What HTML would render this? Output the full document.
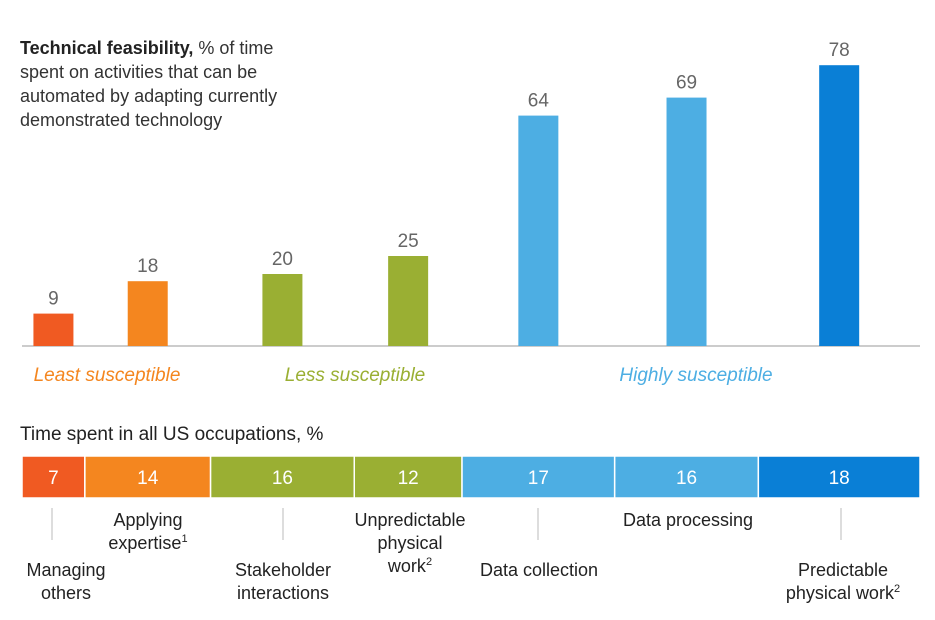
<!DOCTYPE html>
<html><head><meta charset="utf-8"><style>
body{margin:0;background:#fff;font-family:"Liberation Sans",sans-serif;}
svg text{font-family:"Liberation Sans",sans-serif;}
</style></head><body>
<svg id="chart" width="935" height="615" viewBox="0 0 935 615" xmlns="http://www.w3.org/2000/svg">
<g font-size="18" fill="#333">
<text x="20" y="54"><tspan font-weight="bold" fill="#222">Technical feasibility,</tspan> % of time</text>
<text x="20" y="78">spent on activities that can be</text>
<text x="20" y="102">automated by adapting currently</text>
<text x="20" y="126">demonstrated technology</text>
</g>
<line x1="22" x2="920" y1="346" y2="346" stroke="#bbb" stroke-width="1.5"/>
<g id="bars"></g>
<g font-size="19" font-style="italic" text-anchor="middle">
<text x="107" y="381" fill="#f4861f">Least susceptible</text>
<text x="355" y="381" fill="#9aaf33">Less susceptible</text>
<text x="696" y="381" fill="#4daee3">Highly susceptible</text>
</g>
<text x="20" y="440" font-size="19" fill="#222">Time spent in all US occupations, %</text>
<g id="stack"></g>
<g font-size="18" fill="#222" text-anchor="middle">
<text x="148" y="526">Applying</text><text x="148" y="549">expertise<tspan font-size="11" dy="-7">1</tspan></text>
<text x="66" y="576">Managing</text><text x="66" y="599">others</text>
<text x="283" y="576">Stakeholder</text><text x="283" y="599">interactions</text>
<text x="410" y="526">Unpredictable</text><text x="410" y="549">physical</text><text x="410" y="572">work<tspan font-size="11" dy="-7">2</tspan></text>
<text x="539" y="576">Data collection</text>
<text x="688" y="526">Data processing</text>
<text x="843" y="576">Predictable</text><text x="843" y="599">physical work<tspan font-size="11" dy="-7">2</tspan></text>
</g>
<g stroke="#bbb" stroke-width="1">
<line x1="52" x2="52" y1="508" y2="540"/>
<line x1="283" x2="283" y1="508" y2="540"/>
<line x1="538" x2="538" y1="508" y2="540"/>
<line x1="841" x2="841" y1="508" y2="540"/>
</g>
</svg>
<script>
const categories=["Managing others","Applying expertise","Stakeholder interactions","Unpredictable physical work","Data collection","Data processing","Predictable physical work"];
const feasibility=[9,18,20,25,64,69,78];
const timeShare=[7,14,16,12,17,16,18];
const colors=["#f05a22","#f4861f","#9aaf33","#9aaf33","#4daee3","#4daee3","#0a7fd6"];
const NS="http://www.w3.org/2000/svg";
const X0=22,X1=920,BASE=346,PX=3.6;
const total=timeShare.reduce((a,b)=>a+b,0);
function xs(v){return X0+v/total*(X1-X0);}
function ys(v){return BASE-v*PX;}
const bars=document.getElementById('bars'),stack=document.getElementById('stack');
let cum=0;
categories.forEach((c,i)=>{
 const a=xs(cum),b=xs(cum+timeShare[i]);cum+=timeShare[i];
 const cx=(a+b)/2;
 const r=document.createElementNS(NS,'rect');
 
 
 r.setAttribute('x',cx-20);r.setAttribute('width',40);
 r.setAttribute('y',ys(feasibility[i]));r.setAttribute('height',BASE-ys(feasibility[i]));
 r.setAttribute('fill',colors[i]);bars.appendChild(r);
 const t=document.createElementNS(NS,'text');
 
 
 t.setAttribute('x',cx);t.setAttribute('y',ys(feasibility[i])-9);
 t.setAttribute('text-anchor','middle');t.setAttribute('font-size','19');t.setAttribute('fill','#666');
 t.textContent=feasibility[i];bars.appendChild(t);
 const s=document.createElementNS(NS,'rect');
 
 
 s.setAttribute('x',a);s.setAttribute('width',b-a);s.setAttribute('y',456);s.setAttribute('height',42);
 s.setAttribute('fill',colors[i]);s.setAttribute('stroke','#fff');s.setAttribute('stroke-width','1.5');stack.appendChild(s);
 const st=document.createElementNS(NS,'text');
 
 
 st.setAttribute('x',cx);st.setAttribute('y',484);st.setAttribute('text-anchor','middle');
 st.setAttribute('font-size','19');st.setAttribute('fill','#fff');
 st.textContent=timeShare[i];stack.appendChild(st);
});
</script>
</body></html>
